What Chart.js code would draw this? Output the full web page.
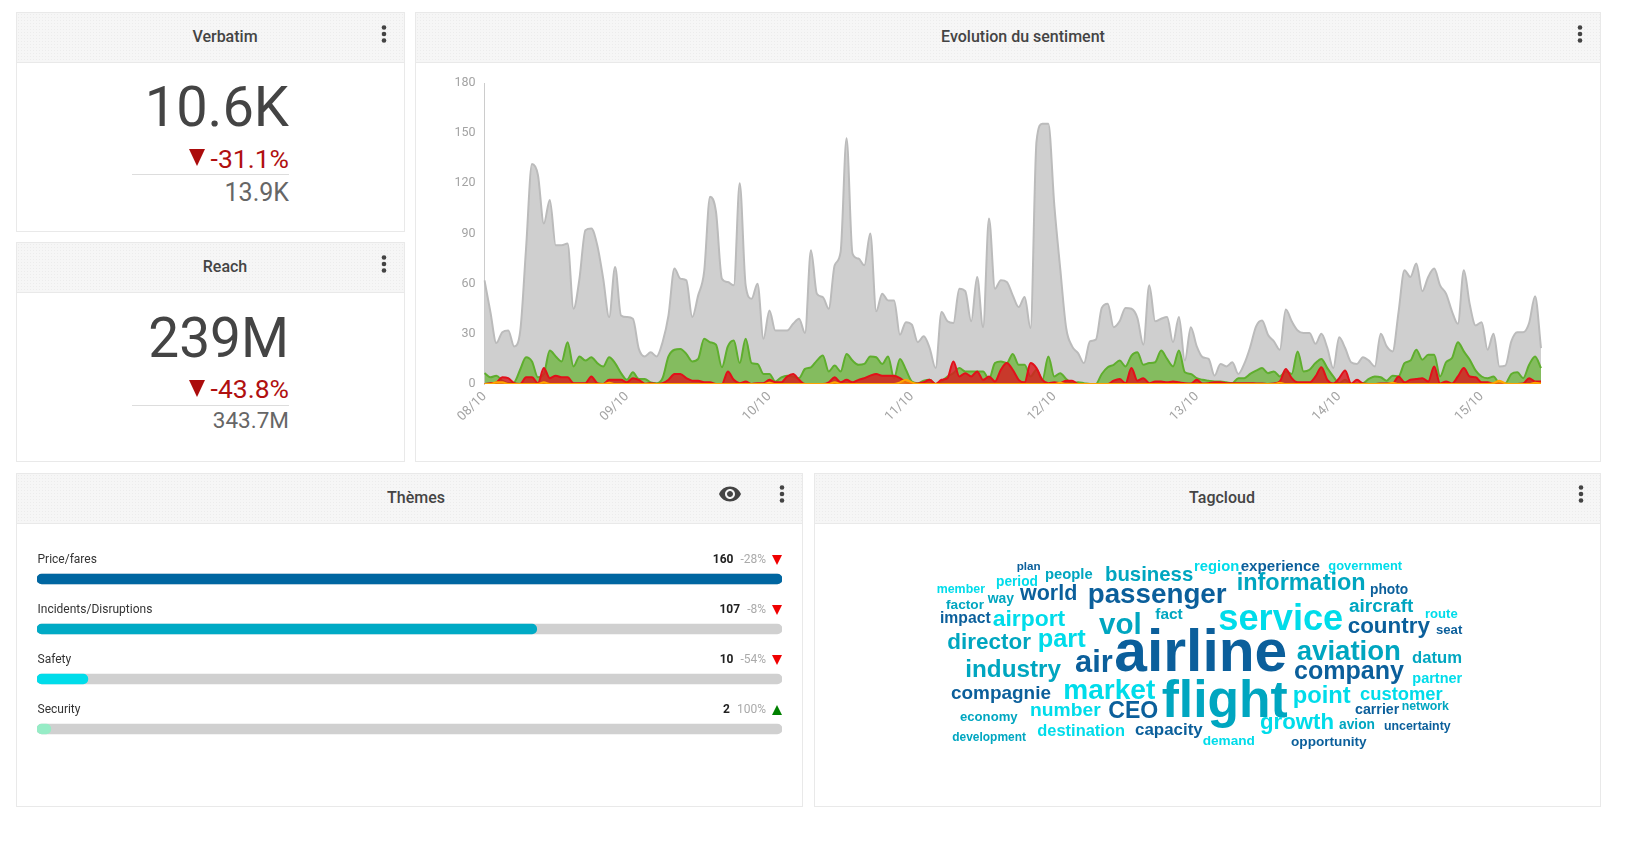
<!DOCTYPE html>
<html>
<head>
<meta charset="utf-8">
<title>Dashboard</title>
<script src="https://cdn.jsdelivr.net/npm/chart.js@4"></script>
<style>
  html, body { margin: 0; background: #fff; font-family: Roboto, sans-serif; overflow: hidden; }
  #page { position: relative; width: 1630px; height: 843px; overflow: hidden; }
  .panel { position: absolute; box-sizing: border-box; border: 1px solid #e9e9e9; background: #fff; }
  .head { position: absolute; left: 0; right: 0; top: 0; height: 49px; border-bottom: 1px solid #e9e9e9;
          background-color: #f6f6f6;
          background-image: radial-gradient(#ececec 0.6px, transparent 0.7px); background-size: 3px 3px; }
  .txt { position: absolute; line-height: 0; white-space: nowrap; }
  .dots { position: absolute; width: 6px; height: 18px; }
  canvas { position: absolute; }
  .tri { position: absolute; width: 0; height: 0; border-style: solid; border-color: transparent; }
</style>
</head>
<body>
<div id="page">
  <div class="panel" style="left:16px;top:12px;width:389px;height:220px"><div class="head"></div></div>
  <div class="panel" style="left:16px;top:242px;width:389px;height:220px"><div class="head"></div></div>
  <div class="panel" style="left:415px;top:12px;width:1186px;height:450px"><div class="head"></div></div>
  <div class="panel" style="left:16px;top:473px;width:787px;height:334px"><div class="head"></div></div>
  <div class="panel" style="left:814px;top:473px;width:787px;height:334px"><div class="head"></div></div>
  <svg style="position:absolute;left:717.6px;top:482px" width="24" height="24" viewBox="0 0 24 24"><path fill="#444" d="M12 4.5C7 4.5 2.73 7.61 1 12c1.73 4.39 6 7.5 11 7.5s9.27-3.11 11-7.5c-1.73-4.39-6-7.5-11-7.5zM12 17c-2.76 0-5-2.24-5-5s2.24-5 5-5 5 2.24 5 5-2.24 5-5 5zm0-8c-1.66 0-3 1.34-3 3s1.34 3 3 3 3-1.34 3-3-1.34-3-3-3z"/></svg>
  <canvas id="sentimentChart" width="1184" height="398" style="left:416px;top:63px"></canvas>
  <canvas id="themeChart" width="745" height="200" style="left:37px;top:554px"></canvas>
</div>
<script>
// hourly sentiment counts, 08/10 00h onwards
const dayTicks = ['08/10', '09/10', '10/10', '11/10', '12/10', '13/10', '14/10', '15/10'];
const totalValues = [
  62,43,24.5,31,32,22.5,31,81,131.5,125,
  96,110,83,83,84,45,63,92,93,83,
  63,40,70,41,40,39,21,16.5,19,16.5,
  25,41,69,63,62,40,53,67,112,103,
  63,61,59,120,59,51,60,27,44,32,
  32,32,36,39,30.5,80,54,52,45,71,
  79,147,78,75,71,90,43.5,54,50,50,
  29.5,37,35.5,25,28.5,21.5,9.5,43,37.5,36.5,
  57,55.5,37.5,64,34,99,57,62,61,53,
  46,52,33.5,145,155.7,155.7,107,69,33.5,22.5,
  18.5,12.5,25.5,26.5,45.5,48,34,37.5,45.5,45,
  39.5,23.5,59,37.5,39,40,25,40,14,34,
  22.5,16,15,5,12,10.5,13,6,12,22,
  34.5,38,29.5,25.5,20.5,44.5,37.5,32,30.5,30.5,
  24,30,21.5,9.5,28,21.5,13,12,16,14,
  10.5,30,22.5,19.5,43,68,64,72,55.5,64,
  69,59,54,43.5,36,68,47.5,35,37,20.5,
  30,10.5,11,25.5,31,31,36.5,52.5,21.5
];
const positiveValues = [
  6.5,4,5,2,.5,1,8.5,16,13.5,4,
  6,20,16.5,13.5,25,10.5,16.5,14,16,12.5,
  10.5,16,12.5,6.5,2.5,7,3,3,1,.5,
  3.5,16.5,20.5,21,18,13.5,15,27,25,23.5,
  10,22.5,26,12.5,27,12.5,12,6,6,1.5,
  4,5,4.5,3.5,9,10,14,17,7.5,11,
  7.5,18,14,11.5,12,16.5,16,12,16.5,3.5,
  15,8.5,1.5,.5,2,2.5,0,1.5,4.5,6.5,
  9.5,7.5,7.5,7.5,7.5,3,12.5,13.5,12.5,18,
  11.5,11.5,4.5,8.5,2.5,16.5,4.5,6.5,3,.5,
  1,.5,0,0,6,10,11.5,14,10.5,17,
  19,11.5,12.5,13,20,15,10.5,20,7,6,
  3.5,2.5,2,1.5,1.5,1,.5,3.5,3.5,6,
  8,9.5,6.5,7.5,4.5,7.5,6,19.5,7.5,8.5,
  12.5,15,9.5,4.5,.5,2.5,0,0,.5,3,
  4.5,4,2,5,4.5,12.5,14,20.5,14.5,17.5,
  17.5,4.5,13,15.5,25,19.5,14.5,8,4.5,3.5,
  4.5,.5,.5,6,7,3.5,11.5,16.5,9.5
];
const negativeValues = [
  0,.5,1,4,3.5,.5,0,4,4,.5,
  9.5,3.5,5,4,4,.5,.5,.5,4.5,.5,
  0,2.5,2.5,2.5,1,3.5,2.5,.2,.5,0,
  .5,2.5,6,6,3.5,2,2,1,1,0,
  0,7.5,2.5,.5,1.5,0,.5,.5,2.5,1,
  1,4.5,6,2.5,0,0,0,0,1,4,
  1,2.5,1,2.5,3.5,5,6,5,5,5,
  3.5,1,.3,.3,1,2.5,0,2.5,3.5,13.5,
  4.5,6.5,4.5,7.5,2.5,4.5,1.5,8.5,12.5,8.5,
  2.5,1,12.5,9.5,2.5,.5,1,.5,2,2,
  0,0,0,0,0,0,2,3,.5,9.5,
  2,3.5,.5,1.5,1.5,1,1.5,1,.5,.3,
  2.5,.3,.5,1,1,.5,.5,.5,.5,.5,
  .3,.3,0,.3,1.5,9,3.5,1,1,1,
  4.5,10,2.5,.3,3.5,8,.3,2.5,.3,0,
  0,.3,.3,.3,4.5,1,2.5,3,3.5,1.5,
  10.5,.3,1.5,.3,4.5,9.5,4.5,4,1,1,
  .3,.3,0,0,0,.3,3.5,1.5,1.5
];
const mixedValues = [
  0,0,1,1,0,0,0,0,0,0,
  1,0,0,0,0,0,0,0,0,0,
  0,.8,0,0,0,0,0,0,0,0,
  0,0,0,0,0,0,0,0,0,0,
  0,0,0,0,0,0,0,0,.8,0,
  0,0,0,0,0,0,0,0,0,1,
  0,0,0,0,0,0,0,0,0,0,
  1,2.5,1,0,0,0,0,0,0,0,
  0,0,0,0,0,0,0,0,0,0,
  0,0,0,0,0,0,0,.8,0,0,
  0,0,0,0,0,0,0,0,0,0,
  0,0,0,0,0,0,0,0,0,0,
  0,0,0,0,0,0,0,0,0,0,
  0,0,0,0,.8,0,0,0,0,0,
  0,0,0,0,0,0,0,0,0,0,
  0,0,0,.8,0,0,0,0,0,0,
  0,0,0,0,0,0,0,0,0,0,
  .5,2,.3,0,0,0,0,.8,.3
];
const yTicks = [0, 30, 60, 90, 120, 150, 180];

const themeNames = ['Price/fares', 'Incidents/Disruptions', 'Safety', 'Security'];
const themeValues = [160, 107, 10, 2];
const themeChanges = ['-28%', '-8%', '-54%', '100%'];
const themeColors = ['#0066a1', '#00aac5', '#00dcea', '#96ecc6'];

const page = document.getElementById('page');

function addText(text, x, baseline, size, color, weight, align, font) {
  const el = document.createElement('div');
  el.className = 'txt';
  el.innerHTML = text;
  const ratio = font ? 0.3465 : 0.3415;
  el.style.cssText = `top:${baseline - ratio * size}px;font-size:${size}px;color:${color};font-weight:${weight || 400};` +
    (font ? `font-family:${font};` : '');
  if (align === 'right') el.style.right = (1630 - x) + 'px';
  else if (align === 'center') { el.style.left = x + 'px'; el.style.transform = 'translateX(-50%)'; }
  else el.style.left = x + 'px';
  page.appendChild(el);
}

function addDots(cx, top) {
  const ns = 'http://www.w3.org/2000/svg';
  const svg = document.createElementNS(ns, 'svg');
  svg.setAttribute('class', 'dots');
  svg.style.left = (cx - 3) + 'px';
  svg.style.top = top + 'px';
  [2.5, 9, 15.5].forEach(y => {
    const c = document.createElementNS(ns, 'circle');
    c.setAttribute('cx', 3); c.setAttribute('cy', y); c.setAttribute('r', 2.3); c.setAttribute('fill', '#444');
    svg.appendChild(c);
  });
  page.appendChild(svg);
}

function addTriangle(left, top, w, h, color, up) {
  const el = document.createElement('div');
  el.className = 'tri';
  el.style.left = left + 'px';
  el.style.top = top + 'px';
  el.style.borderWidth = up ? `0 ${w / 2}px ${h}px` : `${h}px ${w / 2}px 0`;
  el.style[up ? 'borderBottomColor' : 'borderTopColor'] = color;
  page.appendChild(el);
}

// panel titles and menus
addText('Verbatim', 225, 42, 16, '#444', 500, 'center');
addText('Reach', 225, 272.5, 16, '#444', 500, 'center');
addText('Evolution du sentiment', 1023, 42, 16, '#444', 500, 'center');
addText('Thèmes', 416, 503, 16, '#444', 500, 'center');
addText('Tagcloud', 1222, 503, 16, '#444', 500, 'center');
addDots(383.7, 25); addDots(383.7, 255); addDots(1580, 25); addDots(782, 485); addDots(1581, 485);

// KPI blocks
function addKpi(value, valueSize, valueBase, change, previous, previousSize, previousBase, top) {
  addText(value, 289, valueBase, valueSize, '#444', 400, 'right');
  addText(change, 289, top + 168, 26.5, '#b01010', 400, 'right');
  addTriangle(189, top + 149, 17.5, 17, '#ab0c0c', false);
  const rule = document.createElement('div');
  rule.style.cssText = `position:absolute;left:132px;width:157px;top:${top + 174}px;height:1px;background:#ddd`;
  page.appendChild(rule);
  addText(previous, 289, previousBase, previousSize, '#666', 400, 'right');
}
addKpi('10.6K', 56, 126, '-31.1%', '13.9K', 25, 201.5, 0);
addKpi('239M', 55, 357, '-43.8%', '343.7M', 22.5, 427.5, 230.5);

// sentiment area chart
const hourLabels = totalValues.map((_, i) => (i % 24 === 0 ? dayTicks[i / 24] : ''));

new Chart(document.getElementById('sentimentChart'), {
  type: 'line',
  data: {
    labels: hourLabels,
    datasets: [
      { label: 'Total', data: totalValues, order: 4, borderColor: '#bbbbbb', backgroundColor: 'rgba(195,195,195,0.8)' },
      { label: 'Positif', data: positiveValues, order: 3, borderColor: '#5fae2e', backgroundColor: 'rgba(114,184,68,0.8)' },
      { label: 'Négatif', data: negativeValues, order: 2, borderColor: '#e2101a', backgroundColor: 'rgba(218,24,30,0.8)' },
      { label: 'Mixte', data: mixedValues, order: 1, borderColor: '#ffa500', backgroundColor: 'rgba(255,165,0,0.6)' }
    ].map(d => Object.assign(d, { fill: 'origin', borderWidth: 2, pointRadius: 0, cubicInterpolationMode: 'monotone' }))
  },
  options: {
    responsive: false,
    animation: false,
    devicePixelRatio: 1,
    layout: { padding: { top: 20, right: 59, left: 0, bottom: 0 } },
    plugins: { legend: { display: false } },
    scales: {
      x: {
        grid: { display: false, drawTicks: false },
        border: { display: false },
        afterFit: s => { s.height = 77; },
        ticks: { autoSkip: false, minRotation: 45, maxRotation: 45, padding: 5, color: '#a3a3a3', font: { family: 'Roboto', size: 13 } }
      },
      y: {
        min: 0,
        max: 180,
        grid: { display: false, drawTicks: false },
        border: { display: true, color: '#ccc' },
        afterFit: s => { s.width = 68.5; },
        afterBuildTicks: s => { s.ticks = yTicks.map(v => ({ value: v })); },
        ticks: { padding: 9, color: '#a3a3a3', font: { family: 'Roboto', size: 12.5 } }
      }
    }
  }
});

// themes progress bars
new Chart(document.getElementById('themeChart'), {
  type: 'bar',
  data: {
    labels: themeNames,
    datasets: [
      { data: themeValues, backgroundColor: themeColors, order: 1 },
      { data: themeNames.map(() => Math.max(...themeValues)), backgroundColor: '#d0d0d0', order: 2 }
    ].map(d => Object.assign(d, { base: -1, grouped: false, barThickness: 10, borderRadius: 5, borderSkipped: false, clip: false }))
  },
  options: {
    indexAxis: 'y',
    responsive: false,
    animation: false,
    devicePixelRatio: 1,
    plugins: { legend: { display: false }, tooltip: { enabled: false } },
    scales: {
      x: { display: false, min: -1, max: 160 },
      y: { display: false }
    }
  }
});

themeNames.forEach((name, i) => {
  const base = 563.5 + i * 50;
  const up = themeChanges[i].charAt(0) !== '-';
  addText(name, 37.5, base, 12, '#333', 400);
  addText(`<b style="color:#222;font-weight:700;margin-right:7px">${themeValues[i]}</b><span>${themeChanges[i]}</span>`,
    766, base, 12, '#aaa', 400, 'right');
  addTriangle(772, base - 8.5, 10.5, 10, up ? '#008000' : '#f00000', up);
});

// tag cloud, font size comes from the width each word takes in the picture
const CLOUD_DARK = '#0b5f9b', CLOUD_MID = '#00a6c0', CLOUD_LIGHT = '#00dcea';
const cloudLayout = [
  ['plan', 1016.7, 1040.7, 568.3, CLOUD_DARK], ['period', 996, 1038, 585, CLOUD_LIGHT],
  ['people', 1045, 1092.7, 577.7, CLOUD_MID], ['business', 1105, 1193.3, 580, CLOUD_MID],
  ['region', 1194, 1239.3, 570, CLOUD_LIGHT], ['member', 936.7, 985, 591.7, CLOUD_LIGHT],
  ['way', 987.7, 1014, 601, CLOUD_MID], ['world', 1020, 1077.3, 599.3, CLOUD_DARK],
  ['passenger', 1087.7, 1226.7, 601.7, CLOUD_DARK], ['factor', 946, 984, 608.7, CLOUD_MID],
  ['impact', 940, 990.7, 621.7, CLOUD_DARK], ['airport', 992.7, 1065.3, 624, CLOUD_LIGHT],
  ['vol', 1099, 1141.7, 632.3, CLOUD_MID], ['fact', 1155.3, 1182.7, 617.7, CLOUD_MID],
  ['director', 947.3, 1031, 648.3, CLOUD_MID], ['part', 1037.7, 1085.7, 645, CLOUD_LIGHT],
  ['air', 1075, 1112.7, 671, CLOUD_DARK], ['airline', 1114.3, 1287.3, 670, CLOUD_DARK],
  ['industry', 965.3, 1061, 676, CLOUD_MID], ['compagnie', 951, 1051, 697.7, CLOUD_DARK],
  ['market', 1063.3, 1155.3, 698.3, CLOUD_LIGHT], ['flight', 1161.7, 1287.7, 715.7, CLOUD_MID],
  ['number', 1030, 1100.7, 715, CLOUD_LIGHT], ['CEO', 1108.3, 1158.3, 716, CLOUD_DARK],
  ['economy', 960, 1017.7, 720, CLOUD_MID], ['destination', 1037.3, 1125, 734, CLOUD_LIGHT],
  ['capacity', 1135, 1202.7, 734, CLOUD_DARK], ['development', 952.3, 1026, 739.3, CLOUD_MID],
  ['demand', 1202.7, 1255, 744.3, CLOUD_LIGHT], ['experience', 1240.7, 1320, 570, CLOUD_DARK],
  ['government', 1328.3, 1402.3, 569, CLOUD_LIGHT], ['information', 1236.7, 1365.7, 589, CLOUD_MID],
  ['photo', 1370, 1408.3, 593.3, CLOUD_DARK], ['aircraft', 1349, 1413.3, 610.7, CLOUD_MID],
  ['route', 1425, 1457.7, 617.3, CLOUD_LIGHT], ['service', 1218.3, 1343.3, 629.3, CLOUD_LIGHT],
  ['country', 1347.7, 1430, 632.7, CLOUD_DARK], ['seat', 1436, 1462.3, 632.7, CLOUD_DARK],
  ['aviation', 1296.7, 1401, 658.7, CLOUD_MID], ['datum', 1412, 1462, 662.3, CLOUD_MID],
  ['company', 1294, 1404, 677.3, CLOUD_DARK], ['partner', 1412.3, 1462.3, 681.3, CLOUD_LIGHT],
  ['point', 1292.7, 1350.7, 701.7, CLOUD_LIGHT], ['customer', 1360, 1442.7, 699.3, CLOUD_LIGHT],
  ['carrier', 1355, 1399.3, 712.7, CLOUD_DARK], ['network', 1401.7, 1449, 709, CLOUD_MID],
  ['growth', 1260, 1334, 728.3, CLOUD_LIGHT], ['avion', 1339, 1375, 728.3, CLOUD_MID],
  ['uncertainty', 1384, 1450.7, 728.3, CLOUD_DARK], ['opportunity', 1291, 1366.7, 745, CLOUD_DARK]
];
const measure = document.createElement('canvas').getContext('2d');
measure.font = 'bold 100px "Liberation Sans"';
cloudLayout.forEach(([word, x0, x1, baseline, color]) => {
  const size = (x1 - x0) / measure.measureText(word).width * 100;
  addText(word, x0, baseline + 1.5, size, color, 700, 'left', '"Liberation Sans"');
});
</script>
</body>
</html>
